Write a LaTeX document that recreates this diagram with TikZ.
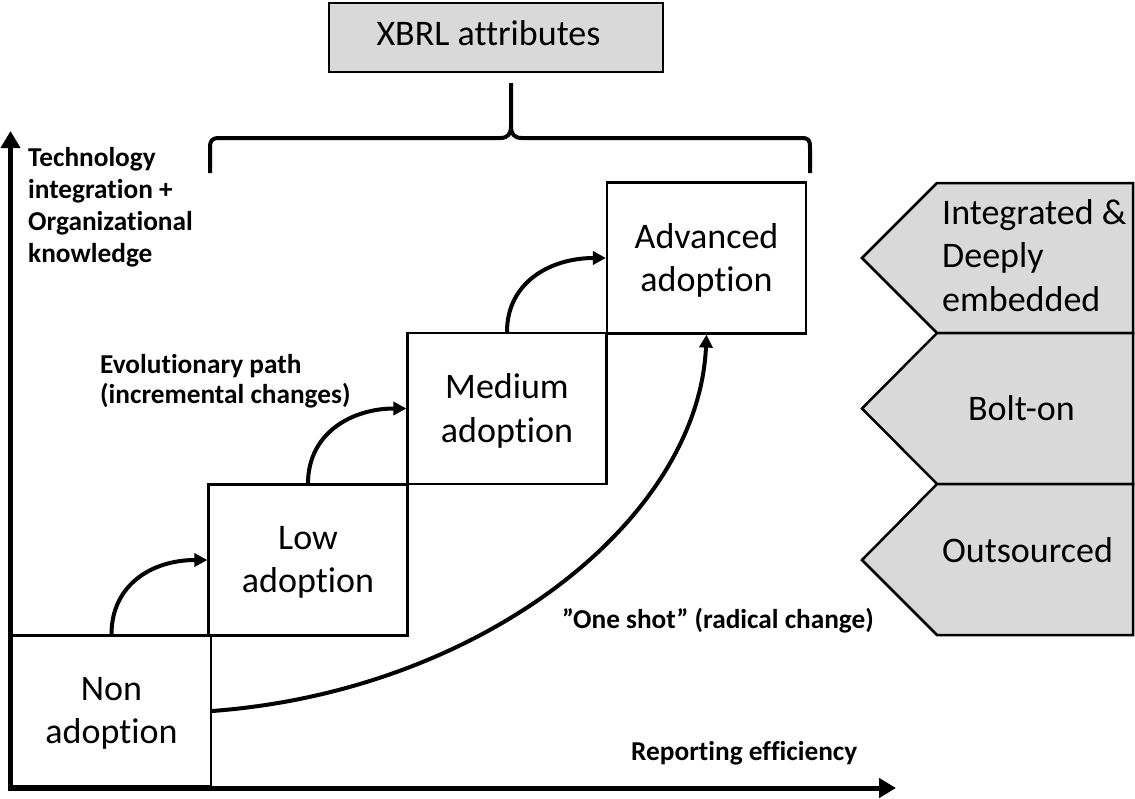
\documentclass[tikz,border=0pt]{standalone}
\usepackage{fontspec}
\setmainfont{Carlito}[Ligatures=NoCommon]
\usetikzlibrary{arrows.meta}
\definecolor{panelgrey}{HTML}{D9D9D9}
\begin{document}
\begin{tikzpicture}[x=1pt,y=-1pt,
  stage/.style={draw, line width=2.2pt, minimum width=199pt, minimum height=151pt,
    inner sep=0pt, align=center, text depth=1pt, font=\fontsize{36}{43.5}\selectfont},
  pathArrow/.style={line width=4pt, -{Triangle[length=13pt,width=13pt]}},
  axisline/.style={line width=5pt, -{Triangle[length=17pt,width=19pt]}},
  note/.style={font=\bfseries\fontsize{27.3}{32}\selectfont, inner sep=0pt, align=left},
  tier/.style={draw, fill=panelgrey, line width=2.5pt, line join=miter},
  tiertext/.style={font=\fontsize{36}{43.5}\selectfont, inner sep=0pt},
  bracestroke/.style={line width=4pt, line join=round}
]
\useasboundingbox (0,0) rectangle (1135,798);

% axes
\coordinate (yfoot) at (10.5,790.5);
\coordinate (ytip) at (10.5,131);
\coordinate (xfoot) at (7.5,788);
\coordinate (xtip) at (896,788);
\draw[axisline] (yfoot) -- (ytip);
\draw[axisline] (xfoot) -- (xtip);

% adoption stages
\node[stage] (non) at (111.5,711) {Non\\adoption};
\node[stage] (low) at (308,560) {Low\\adoption};
\node[stage] (med) at (507,408.5) {Medium\\adoption};
\node[stage] (adv) at (706.5,258) {Advanced\\adoption};

% evolutionary path
\draw[pathArrow] (non.north) .. controls +(0,-50) and +(-55,0) .. (low.west);
\draw[pathArrow] (low.north) .. controls +(0,-50) and +(-55,0) .. (med.west);
\draw[pathArrow] (med.north) .. controls +(0,-50) and +(-55,0) .. (adv.west);

% one-shot path
\draw[pathArrow] (non.east) .. controls +(270,-20) and +(-8,185) .. (adv.south);

% XBRL attributes box and brace
\node[draw, fill=panelgrey, line width=2.5pt, minimum width=334pt, minimum height=69pt,
  inner sep=0pt] (xbrl) at (496,37.5) {};
\node[tiertext, anchor=base] (xbrltext) at (488.5,45) {XBRL attributes};
\draw[bracestroke] (210,173) -- (210,148)
  .. controls (210,140) and (212,138) .. (220,138) -- (500,138)
  .. controls (508,138) and (511,134) .. (511,126)
  .. controls (511,134) and (514,138) .. (522,138) -- (801,138)
  .. controls (809,138) and (810,140) .. (810,148) -- (810,173)
  (511,126) -- (511,83);

% integration tiers
\draw[tier] (1133,183) -- (937,183) -- (862,258) -- (937,333) -- (1133,333) -- cycle;
\draw[tier] (1133,333) -- (937,333) -- (862,408.5) -- (937,484) -- (1133,484) -- cycle;
\draw[tier] (1133,484) -- (937,484) -- (862,560) -- (937,635) -- (1133,635) -- cycle;
\node[tiertext, align=left, anchor=north west] (deep) at (942,199) {Integrated \&\\Deeply\\embedded};
\node[tiertext, anchor=base] (bolt) at (1021.5,420) {Bolt-on};
\node[tiertext, anchor=base] (outs) at (1027.5,562) {Outsourced};

% labels
\node[note, anchor=north west] (ylabel) at (28,147)
  {Technology\\integration +\\Organizational\\knowledge};
\node[note, anchor=north west, font=\bfseries\fontsize{27.3}{30}\selectfont] (evo) at (100,354.5)
  {Evolutionary path\\(incremental changes)};
\node[note, anchor=base west] (oneshot) at (562,628) {”One shot” (radical change)};
\node[note, anchor=base west] (xlabel) at (631,760) {Reporting efficiency};
\end{tikzpicture}
\end{document}
